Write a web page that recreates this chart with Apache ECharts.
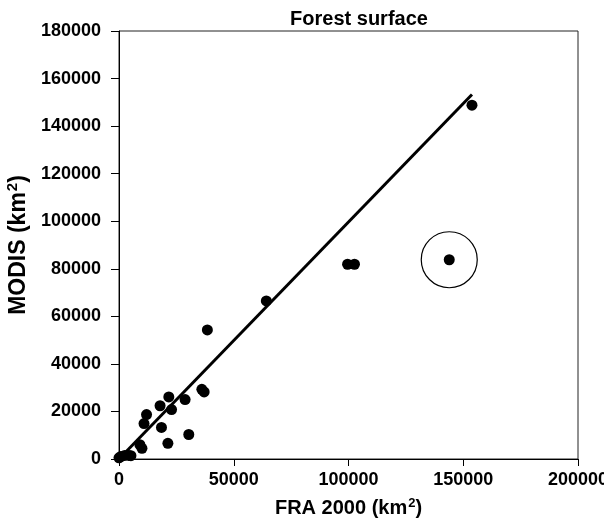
<!DOCTYPE html>
<html>
<head>
<meta charset="utf-8">
<script src="https://cdn.jsdelivr.net/npm/echarts@6/dist/echarts.min.js"></script>
<style>
    html, body { margin: 0; padding: 0; background: #fff; }
    #chart { width: 604px; height: 527px; }
</style>
</head>
<body>
<div id="chart"></div>
<script>
// FRA 2000 vs MODIS forest surface, km2
let fraValues = [0, 800, 2500, 4300, 5200, 9100, 10000, 10900, 12000, 17900, 18500, 21300, 21700, 22900,
    28800, 30400, 36100, 37100, 38500, 64200, 99600, 102600, 143900, 153800]
let modisValues = [500, 1000, 1500, 1500, 1400, 6000, 4500, 14900, 18700, 22400, 13300, 6600, 26100, 20800,
    25000, 10300, 29300, 28200, 54300, 66500, 81900, 81900, 83800, 148800]

// fitted line
let lineX = [0, 153800]
let lineY = [0, 153300]

// the circled outlier
let outlier = [143900, 83800]

let xTicks = [0, 50000, 100000, 150000, 200000]
let yTicks = [0, 20000, 40000, 60000, 80000, 100000, 120000, 140000, 160000, 180000]

let chart = echarts.init(document.querySelector('#chart'))

let font = 'Liberation Sans, Arial, sans-serif'
let supStyle = {fontFamily: font, fontSize: 13, fontWeight: 'bold', color: '#000', verticalAlign: 'top', padding: [0, 0, 10, 1]}

chart.setOption({
    animation: false,
    title: {
        text: 'Forest surface',
        left: 354,
        top: 4,
        textAlign: 'center',
        textStyle: {fontFamily: font, fontSize: 20, fontWeight: 'bold', color: '#000'}
    },
    grid: {
        left: 119,
        top: 31,
        right: 26,
        bottom: 68,
        outerBoundsMode: 'none',
        containLabel: false,
        show: true,
        borderColor: '#222',
        borderWidth: 1
    },
    xAxis: {
        type: 'value',
        min: xTicks[0],
        max: xTicks[xTicks.length - 1],
        interval: xTicks[1] - xTicks[0],
        name: 'FRA 2000 (km{sup|2})',
        nameLocation: 'middle',
        nameGap: 38,
        nameTextStyle: {
            fontFamily: font, fontSize: 20, fontWeight: 'bold', color: '#000',
            rich: {sup: supStyle}
        },
        axisLine: {lineStyle: {color: '#000', width: 1}},
        axisTick: {inside: false, length: 7, lineStyle: {color: '#000'}},
        axisLabel: {fontFamily: font, fontSize: 18, fontWeight: 'bold', color: '#000', margin: 12, formatter: v => String(v)},
        splitLine: {show: false}
    },
    yAxis: {
        type: 'value',
        min: yTicks[0],
        max: yTicks[yTicks.length - 1],
        interval: yTicks[1] - yTicks[0],
        name: 'MODIS (km{sup|2})',
        nameLocation: 'middle',
        nameGap: 86,
        nameTextStyle: {
            fontFamily: font, fontSize: 23, fontWeight: 'bold', color: '#000',
            rich: {sup: Object.assign({}, supStyle, {fontSize: 15, padding: [0, 0, 11, 1]})}
        },
        axisLine: {lineStyle: {color: '#000', width: 1}},
        axisTick: {inside: false, length: 8, lineStyle: {color: '#000'}},
        axisLabel: {fontFamily: font, fontSize: 18, fontWeight: 'bold', color: '#000', margin: 18, formatter: v => String(v)},
        splitLine: {show: false}
    },
    series: [
        {
            type: 'line',
            data: lineX.map((x, i) => [x, lineY[i]]),
            symbol: 'none',
            lineStyle: {color: '#000', width: 3},
            z: 2
        },
        {
            type: 'scatter',
            data: fraValues.map((x, i) => [x, modisValues[i]]),
            symbol: 'circle',
            symbolSize: 11,
            itemStyle: {color: '#000', opacity: 1},
            z: 3
        },
        {
            type: 'scatter',
            data: [outlier],
            symbol: 'circle',
            symbolSize: 56,
            itemStyle: {color: 'none', borderColor: '#000', borderWidth: 1.2, opacity: 1},
            silent: true,
            z: 1
        }
    ]
})
</script>
</body>
</html>
